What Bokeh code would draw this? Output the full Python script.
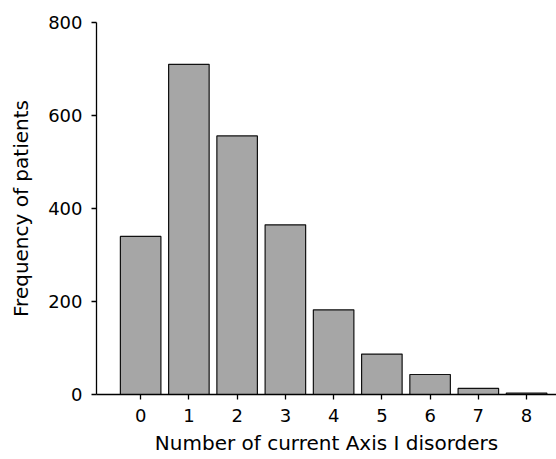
from bokeh.plotting import figure
from bokeh.models import FixedTicker
from bokeh.embed import file_html
from bokeh.resources import INLINE

categories = [0, 1, 2, 3, 4, 5, 6, 7, 8]
frequencies = [340, 710, 556, 365, 182, 87, 43, 13, 3]
y_ticks = [0, 200, 400, 600, 800]

FONT = "DejaVu Sans"

p = figure(width=556, height=459, x_range=(-0.915, 8.62), y_range=(0, 800),
           output_backend="svg", toolbar_location=None,
           min_border_left=96, min_border_right=0, min_border_top=22, min_border_bottom=65)

p.vbar(x=categories, top=frequencies, width=0.84, bottom=0,
       fill_color="#a6a6a6", line_color="#111111", line_width=1.2)

p.xgrid.grid_line_color = None
p.ygrid.grid_line_color = None
p.outline_line_color = None
p.background_fill_color = "white"

for ax in (p.xaxis[0], p.yaxis[0]):
    ax.axis_line_color = "black"
    ax.axis_line_width = 1.3
    ax.major_tick_line_color = "black"
    ax.major_tick_line_width = 1.3
    ax.major_tick_out = 5
    ax.major_tick_in = 0
    ax.minor_tick_line_color = None
    ax.major_label_text_font = FONT
    ax.major_label_text_font_size = "18px"
    ax.major_label_text_color = "black"
    ax.axis_label_text_font = FONT
    ax.axis_label_text_font_size = "20px"
    ax.axis_label_text_font_style = "normal"
    ax.axis_label_text_color = "black"

p.xaxis[0].ticker = FixedTicker(ticks=categories)
p.yaxis[0].ticker = FixedTicker(ticks=y_ticks)
p.xaxis[0].axis_label = "Number of current Axis I disorders"
p.yaxis[0].axis_label = "Frequency of patients"
p.xaxis[0].major_label_standoff = 9
p.yaxis[0].major_label_standoff = 9
p.xaxis[0].axis_label_standoff = 6
p.yaxis[0].axis_label_standoff = 12

open("out.html", "w").write(file_html(p, INLINE))
